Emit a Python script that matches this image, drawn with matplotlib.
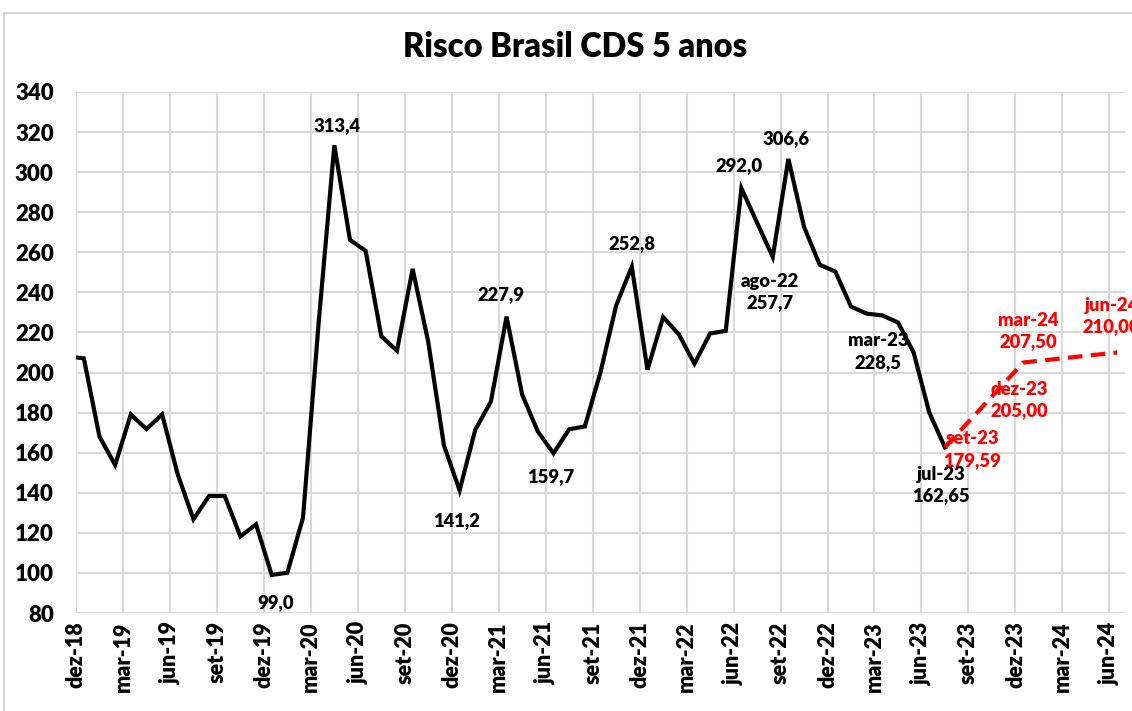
import numpy as np
import matplotlib
matplotlib.use('Agg')
import matplotlib.pyplot as plt
from matplotlib.lines import Line2D

# meses contados a partir de dez-18; pontos no meio de cada mes
# nov-18 entra so para o traco comecar no eixo
cds_hist = [208.0,
            207.1, 168.0, 153.9, 179.1, 171.8, 179.1, 149.1, 126.8, 138.4, 138.4, 118.2, 124.2,
            99.0, 100.1, 127.6, 225.0, 313.4, 266.2, 260.7, 218.1, 210.9, 251.7, 215.2, 163.7,
            141.2, 171.4, 185.5, 227.9, 188.9, 170.5, 159.7, 171.7, 173.1, 200.2, 233.5, 252.8,
            201.4, 227.7, 219.1, 204.4, 219.5, 220.8, 292.0, 274.8, 257.7, 306.6, 272.7, 253.8,
            250.4, 232.9, 229.4, 228.5, 225.0, 210.0, 180.0, 162.65]
hist_start = -1  # indice do mes de nov-18

# projecao: jul-23, set-23, dez-23, mar-24, jun-24
proj_month = [55, 57, 60, 63, 66]
proj_vals = [162.65, 179.59, 205.00, 207.50, 210.00]
proj_names = ['jul-23', 'set-23', 'dez-23', 'mar-24', 'jun-24']

tick_labels = ['dez-18', 'mar-19', 'jun-19', 'set-19', 'dez-19', 'mar-20', 'jun-20',
               'set-20', 'dez-20', 'mar-21', 'jun-21', 'set-21', 'dez-21', 'mar-22',
               'jun-22', 'set-22', 'dez-22', 'mar-23', 'jun-23', 'set-23', 'dez-23',
               'mar-24', 'jun-24']

# rotulos do historico: (mes, texto, deslocamento em pontos)
hist_notes = [(16, '313,4', (2, 14)), (12, '99,0', (3, -20)), (24, '141,2', (-2, -22)),
              (27, '227,9', (-4, 16)), (30, '159,7', (-2, -17)), (35, '252,8', (0, 17)),
              (42, '292,0', (-2, 16)), (45, '306,6', (-2, 15)),
              (44, 'ago-22\n257,7', (-2, -25)), (51, 'mar-23\n228,5', (-3, -26)),
              (55, 'jul-23\n162,65', (-3, -27))]
proj_offsets = [None, (-3, -26), (-3, -27), (-30, 19), (-4, 26)]

plt.rcParams['font.family'] = ['Lato', 'DejaVu Sans']
plt.rcParams['font.weight'] = 'bold'

fig = plt.figure(figsize=(11.32, 7.11), dpi=100)
ax = fig.add_axes([76 / 1132, 1 - 613 / 711, (1125 - 76) / 1132, (613 - 92) / 711])

x_hist = np.arange(len(cds_hist)) + hist_start + 0.5
ax.plot(x_hist, cds_hist, color='black', lw=3, solid_joinstyle='miter', zorder=3)
x_proj = np.array(proj_month) + 0.5
ax.plot(x_proj, proj_vals, color='#ff0000', lw=3, ls=(0, (3.5, 2)), zorder=3)

ax.set_xlim(0, 67)
ax.set_ylim(80, 340)
ax.set_xticks(np.arange(0, 67, 3))
ax.set_xticklabels(tick_labels, rotation=90, fontsize=15.5, fontweight='heavy')
ax.set_yticks(np.arange(80, 341, 20))
ax.set_yticklabels([str(v) for v in range(80, 341, 20)], fontsize=16, fontweight='heavy')
ax.tick_params(length=0, pad=6)
ax.tick_params(axis='y', pad=16)
ax.grid(True, color='#d9d9d9', lw=1.5)
ax.set_axisbelow(True)
for s in ax.spines.values():
    s.set_visible(False)

for m, txt, off in hist_notes:
    v = cds_hist[m - hist_start]
    ax.annotate(txt, (m + 0.5, v), xytext=off, textcoords='offset points',
                ha='center', va='center', fontsize=13.2, fontweight='heavy',
                color='black', linespacing=1.3)

for m, v, name, off in zip(proj_month, proj_vals, proj_names, proj_offsets):
    if off is None:
        continue
    txt = name + '\n' + f'{v:.2f}'.replace('.', ',')
    ax.annotate(txt, (m + 0.5, v), xytext=off, textcoords='offset points',
                ha='center', va='center', fontsize=13.2, fontweight='heavy',
                color='#ff0000', linespacing=1.3, annotation_clip=False)

fig.text(575 / 1132, 1 - 47 / 711, 'Risco Brasil CDS 5 anos', ha='center', va='center',
         fontsize=23.5, fontweight='heavy')

# borda da area do grafico
fig.add_artist(Line2D([4 / 1132, 1], [1 - 13 / 711] * 2, color='#d0d0d0', lw=1.2))
fig.add_artist(Line2D([4 / 1132] * 2, [0, 1 - 13 / 711], color='#d0d0d0', lw=1.2))

fig.savefig('out.png', dpi=100)
